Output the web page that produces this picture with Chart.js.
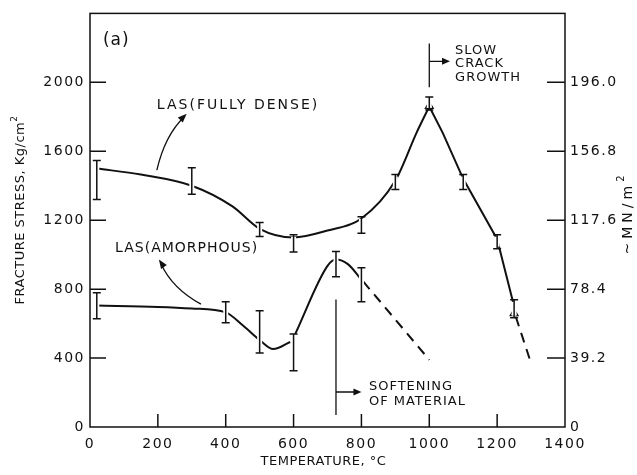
<!DOCTYPE html>
<html>
<head>
<meta charset="utf-8">
<script src="https://cdn.jsdelivr.net/npm/chart.js@4.4.1/dist/chart.umd.min.js"></script>
<style>
  html, body { margin: 0; padding: 0; background: #fff; }
</style>
</head>
<body>
<canvas id="chart" width="637" height="475"></canvas>
<script>
// ---- data ----
const tempTicks = [0, 200, 400, 600, 800, 1000, 1200, 1400];
const kgTicks = [0, 400, 800, 1200, 1600, 2000];
const mnTicks = [0, 39.2, 78.4, 117.6, 156.8, 196.0];

// LAS (fully dense) - rising branch up to the peak, then falling branch
const denseUpT = [20, 150, 300, 420, 500, 600, 700, 800, 900, 963, 1000];
const denseUpS = [1500, 1465, 1400, 1280, 1150, 1100, 1140, 1210, 1430, 1710, 1860];
const denseDownT = [1000, 1040, 1100, 1200, 1250];
const denseDownS = [1860, 1705, 1440, 1090, 700];
const denseDashT = [1255, 1300];
const denseDashS = [640, 370];
// error bars
const denseBarT = [20, 300, 500, 600, 800, 900, 1000, 1100, 1200, 1250];
const denseLo = [1320, 1350, 1105, 1015, 1125, 1378, 1840, 1378, 1035, 634];
const denseHi = [1547, 1505, 1186, 1115, 1220, 1465, 1915, 1465, 1116, 738];
const triT = [1000, 1250];
const triS = [1862, 660];

// LAS (amorphous)
const amorphAT = [20, 200, 300, 400, 450, 500, 540, 590];
const amorphAS = [705, 697, 688, 665, 590, 505, 452, 493];
const amorphBT = [605, 700, 725, 760, 800];
const amorphBS = [540, 935, 972, 945, 855];
const amorphDashT = [805, 1000];
const amorphDashS = [845, 390];
const amorphBarT = [20, 400, 500, 600, 725, 800];
const amorphLo = [628, 605, 430, 326, 872, 727];
const amorphHi = [779, 727, 674, 540, 1018, 924];

const INK = '#111';
const FONT = '"DejaVu Sans", sans-serif';

function pts(xs, ys) {
  return xs.map((v, i) => ({ x: v, y: ys[i] }));
}

function arrowHead(ctx, x0, y0, x1, y1, len, half) {
  const ang = Math.atan2(y1 - y0, x1 - x0);
  ctx.beginPath();
  ctx.moveTo(x1, y1);
  ctx.lineTo(x1 - len * Math.cos(ang) + half * Math.sin(ang), y1 - len * Math.sin(ang) - half * Math.cos(ang));
  ctx.lineTo(x1 - len * Math.cos(ang) - half * Math.sin(ang), y1 - len * Math.sin(ang) + half * Math.cos(ang));
  ctx.closePath();
  ctx.fill();
}

// rotated axis title with a superscript 2
function sideTitle(ctx, cx, cy, text, size, spacing) {
  ctx.save();
  ctx.translate(cx, cy);
  ctx.rotate(-Math.PI / 2);
  ctx.letterSpacing = spacing + 'px';
  ctx.font = size + 'px ' + FONT;
  const w = ctx.measureText(text).width;
  ctx.font = Math.round(size * 0.7) + 'px ' + FONT;
  const ws = ctx.measureText('2').width;
  const x0 = -(w + ws) / 2;
  ctx.textBaseline = 'middle';
  ctx.textAlign = 'left';
  ctx.font = size + 'px ' + FONT;
  ctx.fillText(text, x0, 0);
  ctx.font = Math.round(size * 0.7) + 'px ' + FONT;
  ctx.fillText('2', x0 + w, -size * 0.45);
  ctx.restore();
}

const decor = {
  id: 'decor',
  beforeDraw(chart) {
    chart.ctx.letterSpacing = '1.5px';
  },
  afterDatasetsDraw(chart) {
    const { ctx, chartArea: a, scales } = chart;
    const X = v => scales.x.getPixelForValue(v);
    const Y = v => scales.y.getPixelForValue(v);
    const Y2 = v => scales.y2.getPixelForValue(v);
    ctx.save();
    ctx.strokeStyle = INK;
    ctx.fillStyle = INK;
    ctx.lineCap = 'butt';

    // frame
    ctx.lineWidth = 1.5;
    ctx.strokeRect(a.left, a.top, a.right - a.left, a.bottom - a.top);

    // inward ticks
    ctx.beginPath();
    kgTicks.filter(v => v > 0).forEach(v => {
      ctx.moveTo(a.left, Y(v)); ctx.lineTo(a.left + 16, Y(v));
    });
    mnTicks.filter(v => v > 0).forEach(v => {
      ctx.moveTo(a.right - 18, Y2(v)); ctx.lineTo(a.right, Y2(v));
    });
    tempTicks.filter(v => v > 0 && v < 1400).forEach(v => {
      ctx.moveTo(X(v), a.bottom); ctx.lineTo(X(v), a.bottom - 13);
    });
    ctx.stroke();

    // error bars (white halo breaks the curve like the original)
    function bars(ts, lo, hi) {
      ts.forEach((t, i) => {
        const px = X(t), p1 = Y(lo[i]), p2 = Y(hi[i]);
        ctx.strokeStyle = '#fff';
        ctx.lineWidth = 5;
        ctx.beginPath(); ctx.moveTo(px, p1 - 2); ctx.lineTo(px, p2 + 2); ctx.stroke();
        ctx.strokeStyle = INK;
        ctx.lineWidth = 1.5;
        ctx.beginPath();
        ctx.moveTo(px, p1); ctx.lineTo(px, p2);
        ctx.moveTo(px - 4, p1); ctx.lineTo(px + 4, p1);
        ctx.moveTo(px - 4, p2); ctx.lineTo(px + 4, p2);
        ctx.stroke();
      });
    }
    bars(denseBarT, denseLo, denseHi);
    bars(amorphBarT, amorphLo, amorphHi);

    // annotations
    ctx.textBaseline = 'middle';
    ctx.textAlign = 'left';
    ctx.letterSpacing = '1px';
    ctx.font = '17px ' + FONT;
    ctx.fillText('(a)', X(38), Y(2245));

    ctx.font = '14px ' + FONT;
    ctx.letterSpacing = '2px';
    ctx.fillText('LAS(FULLY DENSE)', X(197), Y(1867));
    ctx.letterSpacing = '1px';
    ctx.fillText('LAS(AMORPHOUS)', X(74), Y(1038));

    ctx.font = '13px ' + FONT;
    ctx.letterSpacing = '1px';
    ctx.fillText('SLOW', X(1076), Y(2186));
    ctx.fillText('CRACK', X(1076), Y(2110));
    ctx.fillText('GROWTH', X(1076), Y(2029));
    ctx.fillText('SOFTENING', X(822), Y(232));
    ctx.fillText('OF MATERIAL', X(822), Y(145));

    // marker lines with arrows
    ctx.lineWidth = 1.3;
    ctx.beginPath();
    ctx.moveTo(X(1000), Y(2226)); ctx.lineTo(X(1000), Y(1971));
    ctx.moveTo(X(1000), Y(2122)); ctx.lineTo(X(1048), Y(2122));
    ctx.moveTo(X(725), Y(740)); ctx.lineTo(X(725), Y(70));
    ctx.moveTo(X(725), Y(203)); ctx.lineTo(X(785), Y(203));
    ctx.stroke();
    arrowHead(ctx, X(1000), Y(2122), X(1061), Y(2122), 8, 3.5);
    arrowHead(ctx, X(725), Y(203), X(800), Y(203), 8, 3.5);

    // curved label arrows
    ctx.beginPath();
    ctx.moveTo(X(197), Y(1490));
    ctx.quadraticCurveTo(X(221), Y(1693), X(278), Y(1800));
    ctx.stroke();
    arrowHead(ctx, X(245), Y(1740), X(285), Y(1818), 9, 3.5);
    ctx.beginPath();
    ctx.moveTo(X(327), Y(713));
    ctx.quadraticCurveTo(X(242), Y(806), X(210), Y(945));
    ctx.stroke();
    arrowHead(ctx, X(235), Y(880), X(203), Y(972), 9, 3.5);

    // axis titles
    ctx.textAlign = 'center';
    ctx.letterSpacing = '0.5px';
    ctx.font = '13px ' + FONT;
    ctx.fillText('TEMPERATURE, °C', (a.left + a.right) / 2 - 4, 462);
    sideTitle(ctx, 21, 210, 'FRACTURE STRESS, Kg/cm', 13, 0.5);
    sideTitle(ctx, 628, 213, '~MN/m', 14, 4);

    ctx.restore();
  }
};

const tickFont = { family: FONT, size: 14 };
const solid = { borderColor: INK, borderWidth: 2, pointRadius: 0, cubicInterpolationMode: 'monotone', yAxisID: 'y' };
const straight = { borderColor: INK, borderWidth: 2, pointRadius: 0, tension: 0, yAxisID: 'y' };
const dashed = { borderColor: INK, borderWidth: 2, pointRadius: 0, borderDash: [10, 7], yAxisID: 'y' };

new Chart(document.getElementById('chart'), {
  type: 'line',
  data: {
    datasets: [
      { ...solid, data: pts(denseUpT, denseUpS) },
      { ...straight, data: pts(denseDownT, denseDownS) },
      { ...dashed, data: pts(denseDashT, denseDashS) },
      { ...solid, data: pts(amorphAT, amorphAS) },
      { ...solid, data: pts(amorphBT, amorphBS) },
      { ...dashed, data: pts(amorphDashT, amorphDashS) },
      {
        data: pts(triT, triS),
        showLine: false, pointStyle: 'triangle', pointRadius: 4.5,
        borderColor: INK, backgroundColor: '#fff', borderWidth: 1.3, yAxisID: 'y'
      }
    ]
  },
  options: {
    responsive: false,
    animation: false,
    devicePixelRatio: 1,
    layout: { padding: { top: 13, left: 0, right: 0, bottom: 0 } },
    plugins: { legend: { display: false }, tooltip: { enabled: false } },
    scales: {
      x: {
        type: 'linear', min: 0, max: 1400,
        afterBuildTicks: s => { s.ticks = tempTicks.map(v => ({ value: v })); },
        afterFit: s => { s.height = 48; },
        grid: { display: false, drawTicks: false },
        border: { display: false },
        ticks: { font: tickFont, color: INK, padding: 9, maxRotation: 0, autoSkip: false,
                 callback: v => String(v) }
      },
      y: {
        position: 'left', min: 0, max: 2400,
        afterBuildTicks: s => { s.ticks = kgTicks.map(v => ({ value: v })); },
        afterFit: s => { s.width = 90; },
        grid: { display: false, drawTicks: false },
        border: { display: false },
        ticks: { font: tickFont, color: INK, padding: 5, callback: v => String(v) }
      },
      y2: {
        position: 'right', min: 0, max: 235.2,
        afterBuildTicks: s => { s.ticks = mnTicks.map(v => ({ value: v })); },
        afterFit: s => { s.width = 72; },
        grid: { display: false, drawTicks: false },
        border: { display: false },
        ticks: { font: tickFont, color: INK, padding: 5,
                 callback: v => (v === 0 ? '0' : v.toFixed(1)) }
      }
    }
  },
  plugins: [decor]
});
</script>
</body>
</html>
